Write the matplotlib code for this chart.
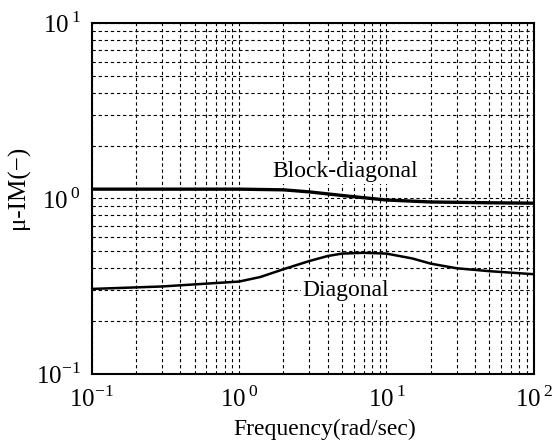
import numpy as np
import matplotlib
matplotlib.use('Agg')
import matplotlib.pyplot as plt
from matplotlib.ticker import FuncFormatter

plt.rcParams['font.family'] = ['Liberation Serif', 'DejaVu Serif']
plt.rcParams['mathtext.fontset'] = 'custom'
plt.rcParams['mathtext.rm'] = 'Liberation Serif'

# valores
freq_block = [0.1, 0.3, 1.0, 2.0, 3.0, 5.0, 7.0, 10.0, 20.0, 50.0, 100.0]
mu_block = [1.13, 1.13, 1.13, 1.12, 1.09, 1.04, 1.01, 0.98, 0.955, 0.945, 0.94]

freq_diag = [0.1, 0.3, 1.0, 1.4, 2.0, 3.0, 4.0, 5.0, 7.0, 10.0, 15.0, 20.0, 30.0, 50.0, 100.0]
mu_diag = [0.305, 0.315, 0.336, 0.357, 0.395, 0.44, 0.47, 0.485, 0.49, 0.485, 0.455, 0.425, 0.40, 0.385, 0.37]

etiquetas = ['Block-diagonal', 'Diagonal']


def potencia(v, pos):
    e = int(round(np.log10(v)))
    if e < 0:
        return r'$10^{%d}$' % e
    return r'$10^{\,%d}$' % e


fig = plt.figure(figsize=(5.56, 4.43), dpi=100)
ax = fig.add_axes([0.165, 0.156, 0.795, 0.792])

ax.set_xscale('log')
ax.set_yscale('log')
ax.set_xlim(0.1, 100)
ax.set_ylim(0.1, 10)
ax.xaxis.set_major_formatter(FuncFormatter(potencia))
ax.yaxis.set_major_formatter(FuncFormatter(potencia))

ax.grid(True, which='both', color='black', linestyle=(0, (3, 2.5)), linewidth=0.8)

ax.plot(freq_block, mu_block, color='black', linewidth=2.4, zorder=3)
ax.plot(freq_diag, mu_diag, color='black', linewidth=1.8, zorder=3)

ax.text(5.26, 1.42, etiquetas[0], fontsize=17, ha='center', va='center', zorder=4,
        bbox=dict(facecolor='white', edgecolor='none', pad=1))
ax.text(5.3, 0.297, etiquetas[1], fontsize=17, ha='center', va='center', zorder=4,
        bbox=dict(facecolor='white', edgecolor='none', pad=1))

for s in ax.spines.values():
    s.set_linewidth(1.5)

ax.tick_params(which='both', direction='in', length=0, labelsize=18)
ax.tick_params(axis='x', pad=9)
ax.tick_params(axis='y', pad=8)
ax.set_xlabel('Frequency(rad/sec)', fontsize=17)
ax.set_ylabel('μ-IM(−)', fontsize=18)
ax.xaxis.set_label_coords(0.527, -0.128)
ax.yaxis.set_label_coords(-0.14, 0.533)

fig.savefig('out.png', dpi=100)
